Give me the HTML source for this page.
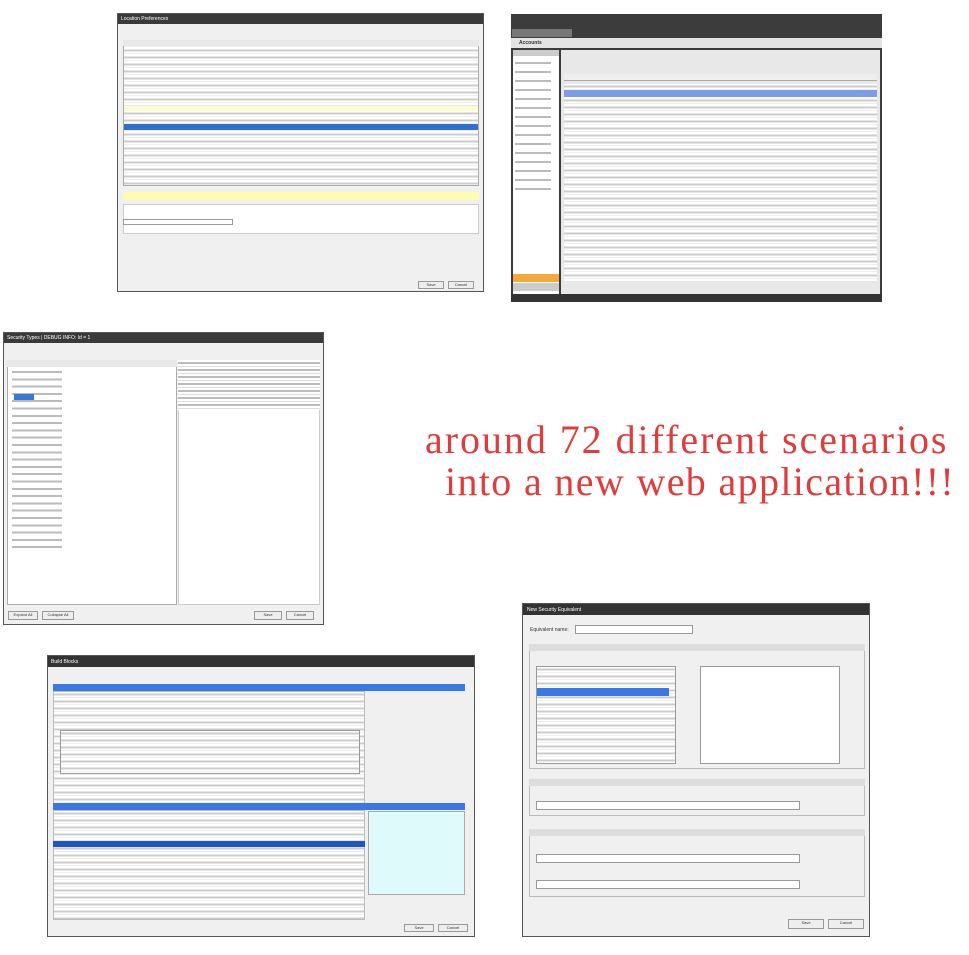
<!DOCTYPE html>
<html><head><meta charset="utf-8"><style>
body{margin:0;width:969px;height:955px;background:#fff;position:relative;overflow:hidden;font-family:"Liberation Sans",sans-serif}
.a{position:absolute;box-sizing:border-box}
.t{font-size:5px;color:#333;white-space:nowrap}
.rows{background:repeating-linear-gradient(#fff 0 1.5px,#ccc 1.5px 3.5px,#fff 3.5px 5px,#eee 5px 6px,#fff 6px 7px)}
.btn{position:absolute;background:#eee;border:1px solid #999;box-sizing:border-box;font-size:4px;text-align:center;color:#333}
.big{position:absolute;font-family:"Liberation Serif",serif;font-size:40px;color:#e03c3c;white-space:nowrap}
</style></head><body>

<div class="a" style="left:117px;top:13px;width:367px;height:279px;background:#f0f0f0;border:1px solid #555">
 <div class="a" style="left:0;top:0;width:100%;height:10px;background:#3a3a3a"></div>
 <div class="a t" style="left:3px;top:2px;color:#fff">Location Preferences</div>
 <div class="a rows" style="left:5px;top:26px;width:356px;height:146px;border:1px solid #aaa"></div>
 <div class="a" style="left:5px;top:26px;width:356px;height:6px;background:#e8e8e8"></div>
 <div class="a" style="left:6px;top:92px;width:354px;height:5px;background:#fffcd0"></div>
 <div class="a" style="left:6px;top:110px;width:354px;height:6px;background:#2f6fd0"></div>
 <div class="a" style="left:5px;top:178px;width:356px;height:8px;background:#fffcb0"></div>
 <div class="a" style="left:5px;top:190px;width:356px;height:30px;background:#fff;border:1px solid #ccc"></div>
 <div class="a" style="left:5px;top:205px;width:110px;height:6px;background:#fff;border:1px solid #999"></div>
 <div class="btn" style="left:300px;top:267px;width:26px;height:8px">Save</div>
 <div class="btn" style="left:330px;top:267px;width:26px;height:8px">Cancel</div>
</div>

<div class="a" style="left:511px;top:14px;width:371px;height:288px;background:#3c3c3c">
 <div class="a" style="left:1px;top:15px;width:60px;height:8px;background:#777"></div>
 <div class="a" style="left:0;top:24px;width:371px;height:10px;background:#e4e4e4"></div>
 <div class="a t" style="left:8px;top:26px;font-weight:bold">Accounts</div>
 <div class="a" style="left:2px;top:36px;width:46px;height:248px;background:#fff"></div>
 <div class="a" style="left:2px;top:36px;width:46px;height:6px;background:#ccc"></div>
 <div class="a" style="left:4px;top:46px;width:36px;height:130px;background:repeating-linear-gradient(#fff 0 2px,#bbb 2px 4px,#fff 4px 9px)"></div>
 <div class="a" style="left:2px;top:260px;width:46px;height:8px;background:#f6a838"></div>
 <div class="a" style="left:2px;top:269px;width:46px;height:8px;background:#ccc"></div>
 <div class="a" style="left:50px;top:36px;width:319px;height:248px;background:#e8e8e8"></div>
 <div class="a rows" style="left:53px;top:70px;width:313px;height:198px"></div>
 <div class="a" style="left:53px;top:60px;width:313px;height:7px;background:#eee;border-bottom:1px solid #aaa"></div>
 <div class="a" style="left:53px;top:76px;width:313px;height:7px;background:#7b9de8"></div>
 <div class="a" style="left:0;top:280px;width:371px;height:8px;background:#333"></div>
</div>

<div class="a" style="left:3px;top:332px;width:321px;height:293px;background:#f0f0f0;border:1px solid #555">
 <div class="a" style="left:0;top:0;width:100%;height:10px;background:#3a3a3a"></div>
 <div class="a t" style="left:3px;top:2px;color:#fff">Security Types | DEBUG INFO: Id = 1</div>
 <div class="a" style="left:3px;top:27px;width:170px;height:245px;background:#fff;border:1px solid #aaa"></div>
 <div class="a" style="left:3px;top:27px;width:170px;height:7px;background:#e8e8e8"></div>
 <div class="a" style="left:8px;top:36px;width:50px;height:180px;background:repeating-linear-gradient(#fff 0 2px,#bbb 2px 4px,#fff 4px 7.3px)"></div>
 <div class="a" style="left:10px;top:61px;width:20px;height:6px;background:#3a78d8"></div>
 <div class="a" style="left:174px;top:27px;width:142px;height:245px;background:#fff;border:1px solid #ccc"></div>
 <div class="a" style="left:174px;top:27px;width:142px;height:50px;background:repeating-linear-gradient(#fff 0 2px,#bbb 2px 4px,#fff 4px 6px,#ddd 6px 7px)"></div>
 <div class="btn" style="left:4px;top:278px;width:30px;height:9px">Expand All</div>
 <div class="btn" style="left:38px;top:278px;width:32px;height:9px">Collapse All</div>
 <div class="btn" style="left:250px;top:278px;width:28px;height:9px">Save</div>
 <div class="btn" style="left:282px;top:278px;width:28px;height:9px">Cancel</div>
</div>

<div class="a" style="left:47px;top:655px;width:428px;height:282px;background:#f0f0f0;border:1px solid #555">
 <div class="a" style="left:0;top:0;width:100%;height:11px;background:#333"></div>
 <div class="a t" style="left:3px;top:3px;color:#fff">Build Blocks</div>
 <div class="a" style="left:5px;top:28px;width:412px;height:7px;background:#3b78e6"></div>
 <div class="a rows" style="left:5px;top:35px;width:312px;height:115px;border:1px solid #bbb"></div>
 <div class="a rows" style="left:12px;top:74px;width:300px;height:44px;border:1px solid #999"></div>
 <div class="a" style="left:5px;top:147px;width:412px;height:7px;background:#3b78e6"></div>
 <div class="a rows" style="left:5px;top:154px;width:312px;height:110px;border:1px solid #bbb"></div>
 <div class="a" style="left:5px;top:185px;width:312px;height:6px;background:#1e56c8"></div>
 <div class="a" style="left:320px;top:155px;width:97px;height:84px;background:#dffafa;border:1px solid #aaa"></div>
 <div class="btn" style="left:356px;top:268px;width:30px;height:8px">Save</div>
 <div class="btn" style="left:390px;top:268px;width:30px;height:8px">Cancel</div>
</div>

<div class="a" style="left:522px;top:603px;width:348px;height:334px;background:#f0f0f0;border:1px solid #555">
 <div class="a" style="left:0;top:0;width:100%;height:11px;background:#333"></div>
 <div class="a t" style="left:4px;top:3px;color:#fff">New Security Equivalent</div>
 <div class="a t" style="left:7px;top:23px">Equivalent name:</div>
 <div class="a" style="left:52px;top:21px;width:118px;height:9px;background:#fff;border:1px solid #999"></div>
 <div class="a" style="left:6px;top:40px;width:336px;height:125px;border:1px solid #bbb"></div>
 <div class="a" style="left:6px;top:40px;width:336px;height:7px;background:#ddd"></div>
 <div class="a rows" style="left:13px;top:62px;width:140px;height:98px;border:1px solid #999"></div>
 <div class="a" style="left:14px;top:84px;width:132px;height:8px;background:#3b78e6"></div>
 <div class="a" style="left:177px;top:62px;width:140px;height:98px;background:#fff;border:1px solid #999"></div>
 <div class="a" style="left:6px;top:175px;width:336px;height:37px;border:1px solid #bbb"></div>
 <div class="a" style="left:6px;top:175px;width:336px;height:7px;background:#ddd"></div>
 <div class="a" style="left:13px;top:197px;width:264px;height:9px;background:#fff;border:1px solid #999"></div>
 <div class="a" style="left:6px;top:225px;width:336px;height:68px;border:1px solid #bbb"></div>
 <div class="a" style="left:6px;top:225px;width:336px;height:7px;background:#ddd"></div>
 <div class="a" style="left:13px;top:250px;width:264px;height:9px;background:#fff;border:1px solid #999"></div>
 <div class="a" style="left:13px;top:276px;width:264px;height:9px;background:#fff;border:1px solid #999"></div>
 <div class="btn" style="left:265px;top:315px;width:36px;height:10px">Save</div>
 <div class="btn" style="left:305px;top:315px;width:36px;height:10px">Cancel</div>
</div>

<div class="big" style="left:425px;top:416px;letter-spacing:1.95px">around 72 different scenarios</div>
<div class="big" style="left:445px;top:458px;letter-spacing:1.35px">into a new web application!!!</div>
</body></html>
